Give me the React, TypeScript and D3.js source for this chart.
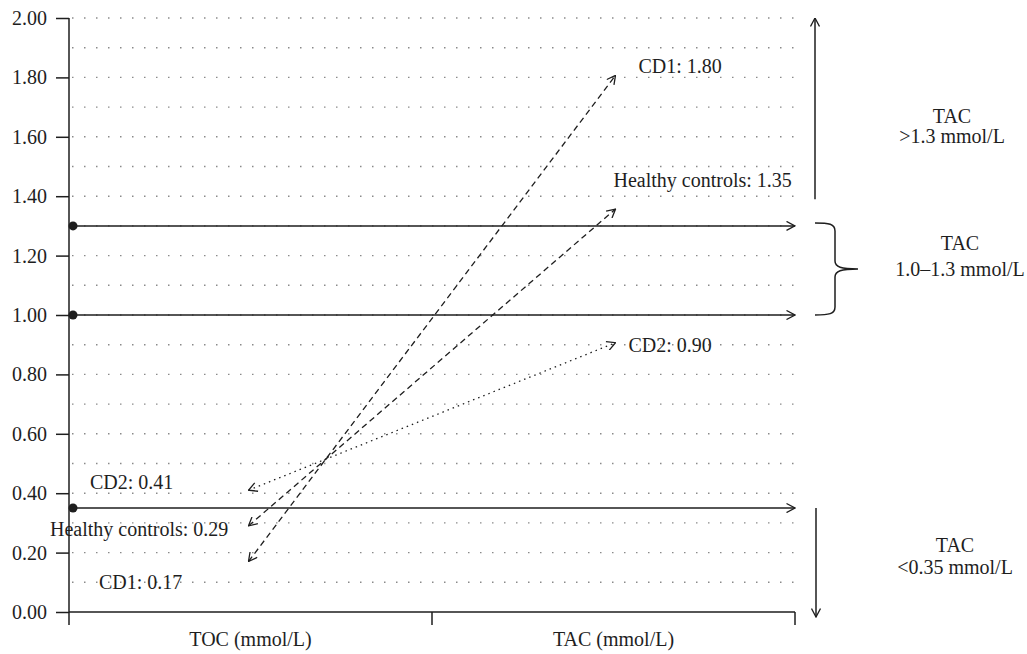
import * as d3 from "d3";
import { useEffect, useRef } from "react";

// categories on the x axis
const groups = ["TOC (mmol/L)", "TAC (mmol/L)"];
// series drawn as arrows from TOC to TAC
const seriesNames = ["CD1", "Healthy controls", "CD2"];
const tocValues = [0.17, 0.29, 0.41];
const tacValues = [1.8, 1.35, 0.9];
const seriesDash = ["6,4", "6,4", "1.5,4"];
// TAC reference levels (dot + horizontal arrow)
const thresholds = [1.3, 1.0, 0.35];
// y ticks
const yTicks = [0, 0.2, 0.4, 0.6, 0.8, 1.0, 1.2, 1.4, 1.6, 1.8, 2.0];
const gridValues = d3.range(1, 21).map((d) => d / 10);
// range annotations on the right
const rangeLines = [
  ["TAC", ">1.3 mmol/L"],
  ["TAC", "1.0\u20131.3 mmol/L"],
  ["TAC", "<0.35 mmol/L"],
];

// label offsets (layout only)
const leftLabelPos = [
  { x: 99, dy: 27 },
  { x: 50, dy: 10 },
  { x: 90, dy: -1 },
];
const rightLabelPos = [
  { dx: 25, dy: -4 },
  { dx: 0, dy: -24 },
  { dx: 15, dy: 7 },
];

const W = 1027;
const H = 654;
const INK = "#1e1e1e";
const FONT = "Liberation Serif, Times New Roman, Times, DejaVu Serif, serif";

function App() {
  const ref = useRef<SVGSVGElement>(null);

  useEffect(() => {
    const svg = d3.select(ref.current);
    svg.selectAll("*").remove();

    const margin = { top: 18, left: 69, right: 232, bottom: 42 };
    const y = d3.scaleLinear().domain([0, 2]).range([H - margin.bottom, margin.top]);
    const x = d3
      .scaleBand()
      .domain(groups)
      .range([margin.left, W - margin.right]);
    const cx = (g: string) => (x(g) as number) + x.bandwidth() / 2;
    const x0 = margin.left;
    const x1 = W - margin.right;

    const defs = svg.append("defs");
    defs
      .append("marker")
      .attr("id", "open")
      .attr("viewBox", "0 0 10 10")
      .attr("refX", 9.5)
      .attr("refY", 5)
      .attr("markerWidth", 10)
      .attr("markerHeight", 10)
      .attr("markerUnits", "userSpaceOnUse")
      .attr("orient", "auto-start-reverse")
      .append("path")
      .attr("d", "M1,0.5 L9.5,5 L1,9.5")
      .attr("fill", "none")
      .attr("stroke", INK)
      .attr("stroke-width", 1.3)
      .attr("stroke-dasharray", "none");

    const root = svg.append("g").attr("fill", INK);

    // dotted grid
    root
      .append("g")
      .selectAll("line")
      .data(gridValues)
      .join("line")
      .attr("x1", x0 + 3)
      .attr("x2", x1)
      .attr("y1", (d) => y(d))
      .attr("y2", (d) => y(d))
      .attr("stroke", "#8a8a8a")
      .attr("stroke-width", 1.4)
      .attr("stroke-dasharray", "1.5,10.5");

    // y axis
    const yAxis = root
      .append("g")
      .attr("transform", `translate(${x0},0)`)
      .call(
        d3
          .axisLeft(y)
          .tickValues(yTicks)
          .tickFormat(d3.format(".2f"))
          .tickSize(13)
          .tickPadding(9)
      );
    yAxis.attr("font-family", null).attr("font-size", null);
    yAxis.select(".domain").remove();
    yAxis.selectAll("line").attr("stroke", INK).attr("stroke-width", 1.5);
    yAxis.selectAll("text").attr("fill", INK);
    root
      .append("line")
      .attr("x1", x0)
      .attr("x2", x0)
      .attr("y1", y(2))
      .attr("y2", y(0) + 13)
      .attr("stroke", INK)
      .attr("stroke-width", 1.5);

    // x axis
    root
      .append("line")
      .attr("x1", x0)
      .attr("x2", x1)
      .attr("y1", y(0))
      .attr("y2", y(0))
      .attr("stroke", INK)
      .attr("stroke-width", 1.5);
    root
      .append("g")
      .selectAll("line")
      .data(groups)
      .join("line")
      .attr("x1", (d) => (x(d) as number) + x.bandwidth())
      .attr("x2", (d) => (x(d) as number) + x.bandwidth())
      .attr("y1", y(0))
      .attr("y2", y(0) + 13)
      .attr("stroke", INK)
      .attr("stroke-width", 1.5);
    root
      .append("g")
      .selectAll("text")
      .data(groups)
      .join("text")
      .attr("x", (d) => cx(d))
      .attr("y", y(0) + 34)
      .attr("text-anchor", "middle")
      .text((d) => d);

    // threshold arrows
    const th = root.append("g");
    th.selectAll("line")
      .data(thresholds)
      .join("line")
      .attr("x1", x0 + 3)
      .attr("x2", x1)
      .attr("y1", (d) => y(d))
      .attr("y2", (d) => y(d))
      .attr("stroke", INK)
      .attr("stroke-width", 1.5)
      .attr("marker-end", "url(#open)");
    th.selectAll("circle")
      .data(thresholds)
      .join("circle")
      .attr("cx", x0 + 4)
      .attr("cy", (d) => y(d))
      .attr("r", 4.5)
      .attr("fill", INK);

    // series arrows TOC -> TAC
    const left = cx(groups[0]) - 2;
    const right = cx(groups[1]) + 2;
    root
      .append("g")
      .selectAll("line")
      .data(seriesNames)
      .join("line")
      .attr("x1", left)
      .attr("y1", (_, i) => y(tocValues[i]))
      .attr("x2", right)
      .attr("y2", (_, i) => y(tacValues[i]) - 2)
      .attr("stroke", INK)
      .attr("stroke-width", 1.3)
      .attr("stroke-dasharray", (_, i) => seriesDash[i])
      .attr("marker-start", "url(#open)")
      .attr("marker-end", "url(#open)");

    // series labels
    root
      .append("g")
      .selectAll("text")
      .data(seriesNames)
      .join("text")
      .attr("x", (_, i) => leftLabelPos[i].x)
      .attr("y", (_, i) => y(tocValues[i]) + leftLabelPos[i].dy)
      .text((d, i) => `${d}: ${tocValues[i].toFixed(2)}`);
    root
      .append("g")
      .selectAll("text")
      .data(seriesNames)
      .join("text")
      .attr("x", (_, i) => cx(groups[1]) + rightLabelPos[i].dx)
      .attr("y", (_, i) => y(tacValues[i]) + rightLabelPos[i].dy)
      .text((d, i) => `${d}: ${tacValues[i].toFixed(2)}`);

    // right-hand range markers
    const ax = 815;
    root
      .append("line")
      .attr("x1", ax)
      .attr("x2", ax)
      .attr("y1", y(1.39))
      .attr("y2", y(2))
      .attr("stroke", INK)
      .attr("stroke-width", 1.5)
      .attr("marker-end", "url(#open)");
    root
      .append("line")
      .attr("x1", ax + 1)
      .attr("x2", ax + 1)
      .attr("y1", y(thresholds[2]))
      .attr("y2", y(0) + 5)
      .attr("stroke", INK)
      .attr("stroke-width", 1.5)
      .attr("marker-end", "url(#open)");

    const top = y(thresholds[0]) - 3;
    const bot = y(thresholds[1]);
    const mid = (top + bot) / 2;
    const bx = ax + 20;
    const tip = ax + 43;
    root
      .append("path")
      .attr(
        "d",
        `M${ax},${top} C${bx - 6},${top} ${bx},${top + 1} ${bx},${top + 8}` +
          ` L${bx},${mid - 8} C${bx},${mid - 2} ${bx + 6},${mid} ${tip},${mid}` +
          ` C${bx + 6},${mid} ${bx},${mid + 2} ${bx},${mid + 8}` +
          ` L${bx},${bot - 8} C${bx},${bot - 1} ${bx - 6},${bot} ${ax},${bot}`
      )
      .attr("fill", "none")
      .attr("stroke", INK)
      .attr("stroke-width", 1.5);

    const rangeAnchors = [
      { x: 952, y: y(1.65) + 1, gap: 20 },
      { x: 960, y: mid - 19, gap: 26 },
      { x: 955, y: y(0.2) - 1, gap: 22 },
    ];
    rangeLines.forEach((lines, i) => {
      const t = root
        .append("text")
        .attr("text-anchor", "middle")
        .attr("x", rangeAnchors[i].x)
        .attr("y", rangeAnchors[i].y);
      lines.forEach((ln, j) => {
        t.append("tspan")
          .attr("x", rangeAnchors[i].x)
          .attr("dy", j === 0 ? 0 : rangeAnchors[i].gap)
          .text(ln);
      });
    });
  }, []);

  return (
    <svg
      ref={ref}
      width={W}
      height={H}
      style={{
        position: "absolute",
        left: 0,
        top: 0,
        background: "#fff",
        fontFamily: FONT,
        fontSize: "20px",
      }}
    />
  );
}

export default App;
